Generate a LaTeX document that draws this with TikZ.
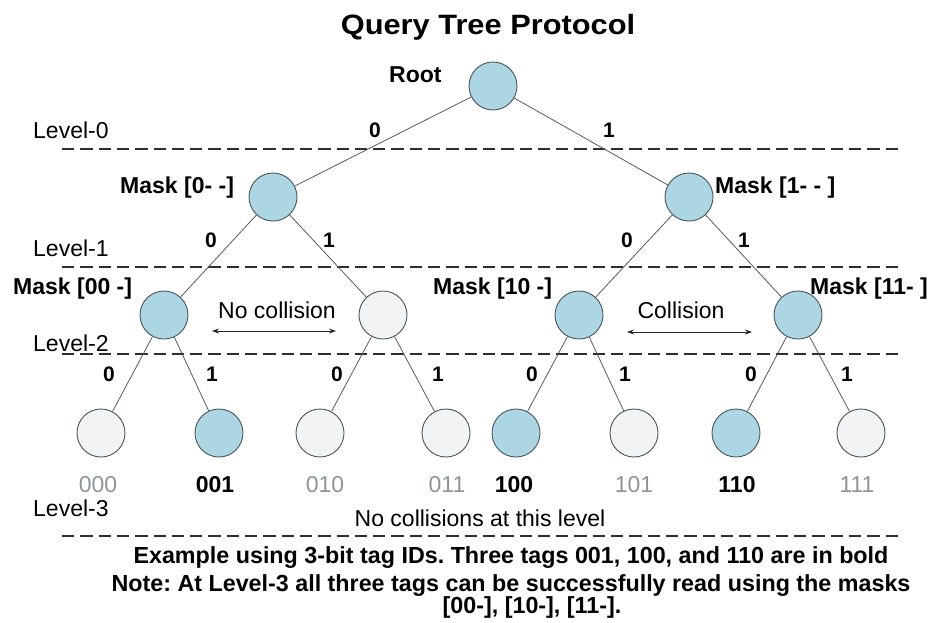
\documentclass[tikz,border=0pt]{standalone}
\usepackage{fontspec}
\setmainfont{Liberation Sans}
\usetikzlibrary{arrows.meta}
\definecolor{nodeblue}{HTML}{ADD6E4}
\definecolor{nodegray}{HTML}{F1F3F5}
\definecolor{ringcol}{HTML}{4A5459}
\definecolor{taggray}{HTML}{8C949B}
\definecolor{edgecol}{HTML}{555B5E}
\begin{document}
\frenchspacing
\begin{tikzpicture}[x=1pt,y=-1pt,
  tnode/.style={circle, draw=ringcol, line width=0.9pt, minimum size=48pt, inner sep=0pt},
  bluenode/.style={tnode, fill=nodeblue},
  palenode/.style={tnode, fill=nodegray},
  edgeline/.style={draw=edgecol, line width=0.8pt},
  lvl/.style={anchor=base west, inner sep=0pt, font=\fontsize{23}{27}\selectfont},
  bitlab/.style={anchor=center, inner sep=0pt, font=\fontsize{21}{25}\selectfont\bfseries},
  masklab/.style={anchor=base west, inner sep=0pt, font=\fontsize{23}{27}\selectfont\bfseries},
  reglab/.style={anchor=base, inner sep=0pt, font=\fontsize{23}{27}\selectfont},
  tagon/.style={anchor=base, inner sep=0pt, font=\fontsize{23}{27}\selectfont\bfseries},
  tagoff/.style={anchor=base, inner sep=0pt, text=taggray, font=\fontsize{23}{27}\selectfont},
  notelab/.style={anchor=base, inner sep=0pt, font=\fontsize{23.3}{27}\selectfont\bfseries},
  dashline/.style={dash pattern=on 12.3pt off 6pt, line width=2.8pt, draw=black!82},
  twoway/.style={{Stealth[length=7pt,width=5pt]}-{Stealth[length=7pt,width=5pt]}, line width=0.8pt, draw=black!85}
]
\useasboundingbox (0,0) rectangle (933,622);

% title
\node[anchor=base, inner sep=0pt, font=\fontsize{28}{32}\selectfont\bfseries] (title) at (488,34) {\scalebox{1.1}[1]{Query Tree Protocol}};

% level dashed lines
\foreach \yy/\nm in {149/a,267/b,354/c,536/d}{
  \coordinate (dl\nm) at (62,\yy);
  \coordinate (dr\nm) at (898,\yy);
  \draw[dashline] (dl\nm) -- (dr\nm);
}

% level labels
\node[lvl] (lv0) at (33,138) {Level-0};
\node[lvl] (lv1) at (33,256) {Level-1};
\node[lvl] (lv2) at (33,351) {Level-2};
\node[lvl] (lv3) at (33,516) {Level-3};

% tree nodes
\node[bluenode] (r) at (493,86) {};
\node[bluenode] (n0) at (273,197) {};
\node[bluenode] (n1) at (689,197) {};
\node[bluenode] (n00) at (164,315) {};
\node[palenode] (n01) at (383,315) {};
\node[bluenode] (n10) at (579,315) {};
\node[bluenode] (n11) at (798,315) {};
\node[palenode] (n000) at (101,433) {};
\node[bluenode] (n001) at (219,433) {};
\node[palenode] (n010) at (320,433) {};
\node[palenode] (n011) at (446,433) {};
\node[bluenode] (n100) at (516,433) {};
\node[palenode] (n101) at (634,433) {};
\node[bluenode] (n110) at (736,433) {};
\node[palenode] (n111) at (861,433) {};

% edges
\draw[edgeline] (r) -- (n0);
\draw[edgeline] (r) -- (n1);
\draw[edgeline] (n0) -- (n00);
\draw[edgeline] (n0) -- (n01);
\draw[edgeline] (n1) -- (n10);
\draw[edgeline] (n1) -- (n11);
\draw[edgeline] (n00) -- (n000);
\draw[edgeline] (n00) -- (n001);
\draw[edgeline] (n01) -- (n010);
\draw[edgeline] (n01) -- (n011);
\draw[edgeline] (n10) -- (n100);
\draw[edgeline] (n10) -- (n101);
\draw[edgeline] (n11) -- (n110);
\draw[edgeline] (n11) -- (n111);

% edge bit labels
\node[bitlab] (b0) at (375,130) {0};
\node[bitlab] (b1) at (609,130) {1};
\node[bitlab] (b00) at (211,240) {0};
\node[bitlab] (b01) at (329,240) {1};
\node[bitlab] (b10) at (627,240) {0};
\node[bitlab] (b11) at (744,240) {1};
\node[bitlab] (b000) at (109,374) {0};
\node[bitlab] (b001) at (212,374) {1};
\node[bitlab] (b010) at (337,374) {0};
\node[bitlab] (b011) at (438,374) {1};
\node[bitlab] (b100) at (532,374) {0};
\node[bitlab] (b101) at (625,374) {1};
\node[bitlab] (b110) at (751,374) {0};
\node[bitlab] (b111) at (847,374) {1};

% mask labels
\node[masklab] (rootlab) at (389,82) {Root};
\node[masklab] (m0) at (120,193) {Mask [0- -]};
\node[masklab] (m1) at (715,193) {Mask [1- - ]};
\node[masklab] (m00) at (13,294) {Mask [00 -]};
\node[masklab] (m10) at (433,294) {Mask [10 -]};
\node[masklab] (m11) at (810,294) {Mask [11- ]};

% collision notes
\node[reglab] (nocol) at (277,318) {No collision};
\coordinate (nca) at (212,331);
\coordinate (ncb) at (336,331);
\draw[twoway] (nca) -- (ncb);
\node[reglab] (col) at (681,318) {Collision};
\coordinate (ca) at (627,332);
\coordinate (cb) at (752,332);
\draw[twoway] (ca) -- (cb);

% tag ids
\node[tagoff] (t000) at (98,492) {000};
\node[tagon] (t001) at (215,492) {001};
\node[tagoff] (t010) at (325,492) {010};
\node[tagoff] (t011) at (447,492) {011};
\node[tagon] (t100) at (514,492) {100};
\node[tagoff] (t101) at (634,492) {101};
\node[tagon] (t110) at (737,492) {110};
\node[tagoff] (t111) at (857,492) {111};

\node[reglab] (nocols) at (480,526) {No collisions at this level};

% notes
\node[notelab] (note1) at (511,563) {Example using 3-bit tag IDs. Three tags 001, 100, and 110 are in bold};
\node[notelab] (note2) at (511,591) {Note: At Level-3 all three tags can be successfully read using the masks};
\node[notelab] (note3) at (532,613) {[00-], [10-], [11-].};
\end{tikzpicture}
\end{document}
